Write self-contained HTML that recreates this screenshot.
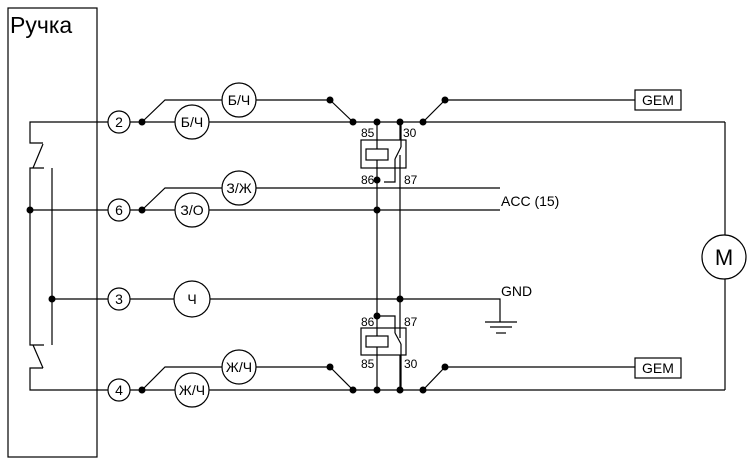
<!DOCTYPE html>
<html><head><meta charset="utf-8"><style>
html,body{margin:0;padding:0;background:#fff;width:754px;height:467px;overflow:hidden}
svg text{font-family:"Liberation Sans","DejaVu Sans",sans-serif;fill:#000}
</style></head><body>
<svg width="754" height="467" viewBox="0 0 754 467" xmlns="http://www.w3.org/2000/svg">
<g stroke="#000" stroke-width="1.2" fill="none">
<rect x="8" y="8" width="89" height="449"/>
<polyline points="118,122 30,122 30,143 43,143"/>
<line x1="43" y1="144" x2="33" y2="168"/>
<polyline points="44,168 30,168 30,345 44,345"/>
<line x1="33" y1="345" x2="43" y2="368"/>
<polyline points="43,368 30,368 30,390 118,390"/>
<line x1="52" y1="168" x2="52" y2="345"/>
<line x1="30" y1="210" x2="118" y2="210"/>
<line x1="52" y1="299" x2="118" y2="299"/>
<line x1="118" y1="122" x2="725" y2="122"/>
<line x1="725" y1="122" x2="725" y2="390"/>
<line x1="118" y1="390" x2="725" y2="390"/>
<line x1="118" y1="210" x2="500" y2="210"/>
<polyline points="118,299 500,299 500,322"/>
<line x1="485" y1="322" x2="517" y2="322"/>
<line x1="490" y1="327" x2="512" y2="327"/>
<line x1="496" y1="333" x2="506" y2="333"/>
<polyline points="142,122 165,100 330,100"/>
<polyline points="142,210 165,188 500,188"/>
<polyline points="142,390 165,367 330,367"/>
<line x1="330" y1="100" x2="353" y2="122"/>
<line x1="423" y1="122" x2="445" y2="100"/>
<line x1="445" y1="100" x2="635" y2="100"/>
<line x1="330" y1="367" x2="353" y2="390"/>
<line x1="423" y1="390" x2="445" y2="367"/>
<line x1="445" y1="367" x2="635" y2="367"/>
<line x1="377" y1="122" x2="377" y2="390"/>
<line x1="400" y1="122" x2="400" y2="390"/>
<rect x="361" y="140" width="45" height="28" fill="#fff"/>
<rect x="366" y="149" width="22" height="11" fill="#fff"/>
<line x1="377" y1="140" x2="377" y2="149"/>
<line x1="377" y1="160" x2="377" y2="168"/>
<line x1="401" y1="122" x2="401" y2="147"/>
<line x1="401" y1="147" x2="395" y2="159"/>
<polyline points="395,159 395,182 384,182"/>
<line x1="400" y1="155" x2="400" y2="168"/>
<rect x="361" y="328" width="45" height="27" fill="#fff"/>
<rect x="366" y="336" width="22" height="11" fill="#fff"/>
<line x1="377" y1="328" x2="377" y2="336"/>
<line x1="377" y1="347" x2="377" y2="355"/>
<line x1="401" y1="344" x2="401" y2="390"/>
<line x1="395" y1="333" x2="401" y2="344"/>
<polyline points="395,333 395,316 377,316"/>
<line x1="400" y1="328" x2="400" y2="338"/>
<rect x="635" y="90" width="46" height="20" fill="#fff"/>
<rect x="635" y="358" width="46" height="20" fill="#fff"/>
<g fill="#fff">
<circle cx="119" cy="122" r="11"/><circle cx="119" cy="210" r="11"/>
<circle cx="119" cy="299" r="11"/><circle cx="119" cy="390" r="11"/>
<circle cx="239" cy="100" r="17"/><circle cx="192" cy="122" r="17"/>
<circle cx="239" cy="188" r="17"/><circle cx="192" cy="210" r="17"/>
<circle cx="192" cy="299" r="18"/>
<circle cx="239" cy="367" r="17"/><circle cx="192" cy="390" r="17"/>
<circle cx="724" cy="257" r="22"/>
</g>
</g>
<g fill="#000">
<circle cx="142" cy="122" r="3.5"/><circle cx="142" cy="210" r="3.5"/><circle cx="142" cy="390" r="3.5"/>
<circle cx="30" cy="210" r="3.5"/><circle cx="52" cy="299" r="3.5"/>
<circle cx="330" cy="100" r="3.5"/><circle cx="353" cy="122" r="3.5"/><circle cx="377" cy="122" r="3.5"/><circle cx="400" cy="122" r="3.5"/><circle cx="423" cy="122" r="3.5"/><circle cx="445" cy="100" r="3.5"/>
<circle cx="330" cy="367" r="3.5"/><circle cx="353" cy="390" r="3.5"/><circle cx="377" cy="390" r="3.5"/><circle cx="400" cy="390" r="3.5"/><circle cx="423" cy="390" r="3.5"/><circle cx="445" cy="367" r="3.5"/>
<circle cx="377" cy="180" r="3.5"/><circle cx="377" cy="210" r="3.5"/><circle cx="400" cy="299" r="3.5"/><circle cx="377" cy="316" r="3.5"/>
</g>
<text x="10" y="33" font-size="23">Ручка</text>
<g font-size="14" text-anchor="middle">
<text x="119" y="127">2</text><text x="119" y="215">6</text><text x="119" y="304">3</text><text x="119" y="395">4</text>
<text x="239" y="105">Б/Ч</text><text x="192" y="127">Б/Ч</text>
<text x="239" y="193">З/Ж</text><text x="192" y="215">З/О</text>
<text x="192" y="304">Ч</text>
<text x="239" y="372">Ж/Ч</text><text x="192" y="395">Ж/Ч</text>
<text x="658" y="105">GEM</text><text x="658" y="373">GEM</text>
<text x="724" y="265" font-size="22">M</text>
</g>
<g font-size="12">
<text x="361" y="137">85</text><text x="403" y="137">30</text>
<text x="361" y="184">86</text><text x="404" y="184">87</text>
<text x="361" y="326">86</text><text x="404" y="326">87</text>
<text x="361" y="368">85</text><text x="404" y="368">30</text>
</g>
<text x="501" y="206" font-size="14" font-family="Liberation Mono, monospace">ACC (15)</text>
<text x="501" y="296" font-size="14">GND</text>
</svg>
</body></html>
